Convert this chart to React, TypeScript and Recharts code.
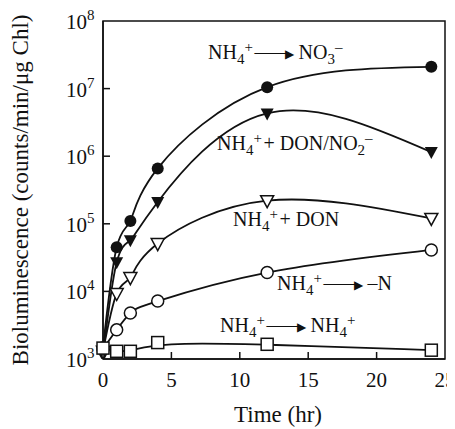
import React from "react";
import {
  LineChart,
  Line,
  XAxis,
  YAxis,
  ReferenceArea,
} from "recharts";

// sampling times (hr)
const times = [0, 1, 2, 4, 12, 24];

// bioluminescence (counts/min/ug Chl)
const nitrateSeries = [1500, 45000, 110000, 660000, 10500000, 21000000];
const donNitriteSeries = [1150, 27000, 57000, 210000, 4300000, 1150000];
const donSeries = [1300, 9300, 16000, 51000, 220000, 120000];
const minusNSeries = [1400, 2700, 4800, 7200, 19000, 41000];
const ammoniumSeries = [1450, 1300, 1300, 1750, 1650, 1350];

const xTicks = [0, 5, 10, 15, 20, 25];
const yTicks = [1e3, 1e4, 1e5, 1e6, 1e7, 1e8];

const data = times.map((t, i) => ({
  t,
  nitrate: nitrateSeries[i],
  donNitrite: donNitriteSeries[i],
  don: donSeries[i],
  minusN: minusNSeries[i],
  ammonium: ammoniumSeries[i],
}));

const FONT = "'Liberation Serif', 'Times New Roman', serif";
const INK = "#111";

const FilledCircle = (p: any) => (
  <circle key={p.key} cx={p.cx} cy={p.cy} r={6} fill={INK} stroke="none" />
);
const OpenCircle = (p: any) => (
  <circle key={p.key} cx={p.cx} cy={p.cy} r={6} fill="#fff" stroke={INK} strokeWidth={1.5} />
);
const FilledTri = (p: any) => (
  <path
    key={p.key}
    d={`M${p.cx - 6.5},${p.cy - 5} L${p.cx + 6.5},${p.cy - 5} L${p.cx},${p.cy + 7} Z`}
    fill={INK}
  />
);
const OpenTri = (p: any) => (
  <path
    key={p.key}
    d={`M${p.cx - 6.5},${p.cy - 5} L${p.cx + 6.5},${p.cy - 5} L${p.cx},${p.cy + 7} Z`}
    fill="#fff"
    stroke={INK}
    strokeWidth={1.5}
  />
);
const OpenSquare = (p: any) => (
  <rect key={p.key} x={p.cx - 6} y={p.cy - 6} width={12} height={12} fill="#fff" stroke={INK} strokeWidth={1.5} />
);

const XTick = (p: any) => {
  const { x, y, payload } = p;
  const axisY = y - 12;
  return (
    <g>
      {payload.value > 0 && payload.value < 25 && (
        <line x1={x} x2={x} y1={axisY} y2={axisY - 7} stroke={INK} strokeWidth={1.5} />
      )}
      <text x={x} y={y + 16} textAnchor="middle" fontFamily={FONT} fontSize={21} fill={INK}>
        {payload.value}
      </text>
    </g>
  );
};

const YTick = (p: any) => {
  const { x, y, payload } = p;
  const axisX = x + 6;
  const exp = Math.round(Math.log10(payload.value));
  return (
    <g>
      {exp > 3 && exp < 8 && (
        <line x1={axisX} x2={axisX + 7} y1={y} y2={y} stroke={INK} strokeWidth={1.5} />
      )}
      <text x={x - 10} y={y + 8} textAnchor="end" fontFamily={FONT} fontSize={21} fill={INK}>
        10
      </text>
      <text x={x - 10} y={y - 1} textAnchor="start" fontFamily={FONT} fontSize={15} fill={INK}>
        {exp}
      </text>
    </g>
  );
};

const SubSup = ({ sub, sup }: any) => (
  <>
    <tspan dy={5} fontSize={15}>{sub}</tspan>
    <tspan dy={-12} fontSize={15}>{sup}</tspan>
    <tspan dy={7}>{"\u200A"}</tspan>
  </>
);
const Arrow = () => (
  <>
    <tspan letterSpacing={-5}>{"\u2014\u2014"}</tspan>
    <tspan fontSize={12} dy={-1}>{"\u25B6"}</tspan>
    <tspan dy={1}>{" "}</tspan>
  </>
);

export default function App() {
  return (
    <div style={{ position: "relative", width: 447, height: 421, fontFamily: FONT }}>
      <LineChart
        width={447}
        height={421}
        data={data}
        margin={{ top: 13, right: 10, bottom: 40, left: 35 }}
      >
        <XAxis
          dataKey="t"
          type="number"
          domain={[0, 25]}
          ticks={xTicks}
          tickSize={0}
          tickMargin={12}
          height={30}
          axisLine={{ stroke: INK, strokeWidth: 1.5 }}
          tick={<XTick />}
          interval={0}
        />
        <YAxis
          type="number"
          scale="log"
          domain={[1e3, 1e8]}
          ticks={yTicks}
          allowDataOverflow
          width={60}
          tickSize={0}
          tickMargin={6}
          axisLine={{ stroke: INK, strokeWidth: 1.5 }}
          tick={<YTick />}
          interval={0}
        />
        <ReferenceArea x1={0} x2={25} y1={1e3} y2={1e8} fill="none" stroke={INK} strokeWidth={1.5} />
        <Line dataKey="nitrate" type="natural" stroke={INK} strokeWidth={1.8} dot={FilledCircle} isAnimationActive={false} />
        <Line dataKey="donNitrite" type="natural" stroke={INK} strokeWidth={1.8} dot={FilledTri} isAnimationActive={false} />
        <Line dataKey="don" type="natural" stroke={INK} strokeWidth={1.8} dot={OpenTri} isAnimationActive={false} />
        <Line dataKey="minusN" type="natural" stroke={INK} strokeWidth={1.8} dot={OpenCircle} isAnimationActive={false} />
        <Line dataKey="ammonium" type="basis" stroke={INK} strokeWidth={1.8} dot={OpenSquare} isAnimationActive={false} />
      </LineChart>
      <svg
        width={447}
        height={421}
        style={{ position: "absolute", left: 0, top: 0, pointerEvents: "none" }}
        fontFamily={FONT}
        fill={INK}
      >
        <text x={200} y={51} fontSize={20}>
          NH<SubSup sub="4" sup="+" />
          <Arrow />NO<SubSup sub="3" sup={"\u2013"} />
        </text>
        <text x={209} y={142} fontSize={20}>
          NH<SubSup sub="4" sup="+" />+ DON/NO<SubSup sub="2" sup={"\u2013"} />
        </text>
        <text x={225} y={218} fontSize={20}>
          NH<SubSup sub="4" sup="+" />+ DON
        </text>
        <text x={269} y={282} fontSize={20}>
          NH<SubSup sub="4" sup="+" />
          <Arrow />{"\u2013N"}
        </text>
        <text x={212} y={324} fontSize={20}>
          NH<SubSup sub="4" sup="+" />
          <Arrow />NH<SubSup sub="4" sup="+" />
        </text>
        <text x={270} y={414} fontSize={23} textAnchor="middle">
          Time (hr)
        </text>
        <text
          x={0}
          y={0}
          fontSize={23}
          textAnchor="middle"
          transform="translate(20,182) rotate(-90)"
        >
          {"Bioluminescence (counts/min/\u03BCg Chl)"}
        </text>
      </svg>
    </div>
  );
}
